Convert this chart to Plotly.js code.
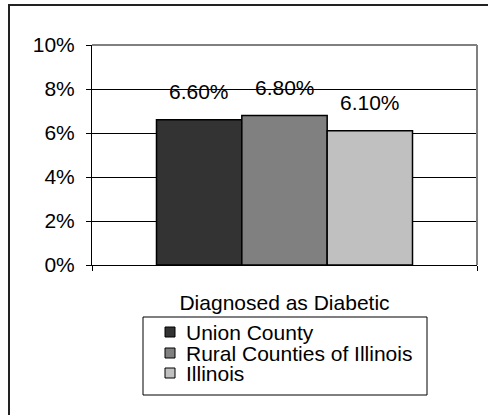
<!DOCTYPE html>
<html>
<head>
<meta charset="utf-8">
<script src="https://cdn.plot.ly/plotly-3.0.1.min.js"></script>
<style>
  html, body { margin: 0; padding: 0; background: #fff; overflow: hidden; }
  #wrap { position: relative; width: 488px; height: 415px; }
  #frame { position: absolute; left: 8px; top: 4px; width: 520px; height: 450px;
           border-left: 2px solid #222; border-top: 2px solid #222; box-sizing: border-box; pointer-events: none; }
  #chart { position: absolute; left: 0; top: 0; width: 488px; height: 415px; }
</style>
</head>
<body>
<div id="wrap">
  <div id="chart"></div>
  <div id="frame"></div>
</div>
<script>
const categories = ["Diagnosed as Diabetic"];
const seriesNames = ["Union County", "Rural Counties of Illinois", "Illinois"];
const unionCounty = [0.066];
const ruralCounties = [0.068];
const illinois = [0.061];
const valueLabels = ["6.60%", "6.80%", "6.10%"];
const yTickVals = [0, 0.02, 0.04, 0.06, 0.08, 0.10];
const yTickText = ["0%", "2%", "4%", "6%", "8%", "10%"];

const colors = ["#333333", "#808080", "#c0c0c0"];
const seriesValues = [unionCounty, ruralCounties, illinois];
const FONT = "Liberation Sans, Arial, sans-serif";
const FS = 21;

const W = 488, H = 415;
const margin = {l: 92, r: 11, t: 45, b: 150, pad: 0, autoexpand: false};
const plotW = W - margin.l - margin.r;
const plotH = H - margin.t - margin.b;
const bottomPx = H - margin.b;
const bargap = 0.335;
const barPx = (1 - bargap) / seriesNames.length * plotW;

// pixel -> paper helpers for the hand-drawn legend box
const px = v => (v - margin.l) / plotW;
const py = v => (bottomPx - v) / plotH;

const traces = seriesNames.map((name, i) => ({
  type: "bar",
  name: name,
  x: categories,
  y: seriesValues[i],
  marker: {color: colors[i], line: {color: "#000", width: 1.5}},
  hoverinfo: "none",
  showlegend: false
}));

const annotations = seriesNames.map((name, i) => ({
  x: categories[0],
  y: seriesValues[i][0],
  xref: "x", yref: "y",
  text: valueLabels[i],
  showarrow: false,
  xanchor: "center", yanchor: "middle",
  xshift: (i - 1) * barPx,
  yshift: 28,
  font: {family: FONT, size: FS, color: "#000"}
}));

// legend (drawn as box + swatches + labels)
const legendBox = {x0: 143, x1: 427, y0: 317, y1: 395};
const legendRowY = [332, 353, 373];
const shapes = [
  {type: "line", xref: "paper", yref: "paper", x0: 0, x1: 1, y0: 1, y1: 1, line: {color: "#808080", width: 2}},
  {type: "line", xref: "paper", yref: "paper", x0: 1, x1: 1, y0: 0, y1: 1, line: {color: "#808080", width: 2}},
  {type: "rect", xref: "paper", yref: "paper",
   x0: px(legendBox.x0), x1: px(legendBox.x1), y0: py(legendBox.y0), y1: py(legendBox.y1),
   line: {color: "#000", width: 1}, fillcolor: "#fff"}
];
seriesNames.forEach((name, i) => {
  const cy = legendRowY[i];
  shapes.push({type: "rect", xref: "paper", yref: "paper",
    x0: px(165), x1: px(175), y0: py(cy - 5), y1: py(cy + 5),
    line: {color: "#000", width: 1}, fillcolor: colors[i]});
  annotations.push({xref: "paper", yref: "paper", x: px(184), y: py(cy),
    xanchor: "left", yanchor: "middle", showarrow: false, text: name,
    font: {family: FONT, size: FS, color: "#000"}});
});

const layout = {
  width: W, height: H,
  margin: margin,
  paper_bgcolor: "rgba(0,0,0,0)",
  plot_bgcolor: "#fff",
  barmode: "group",
  bargap: bargap,
  bargroupgap: 0,
  font: {family: FONT, size: FS, color: "#000"},
  showlegend: false,
  xaxis: {
    type: "category",
    showline: true, linecolor: "#000", linewidth: 1,
    ticks: "outside", tickson: "boundaries", ticklen: 5, tickcolor: "#000",
    ticklabelstandoff: 19,
    showgrid: false, zeroline: false,
    tickfont: {family: FONT, size: FS, color: "#000"},
    fixedrange: true
  },
  yaxis: {
    range: [0, 0.10],
    tickvals: yTickVals, ticktext: yTickText,
    showline: true, linecolor: "#000", linewidth: 1,
    ticks: "outside", ticklen: 5, tickcolor: "#000",
    showgrid: true, gridcolor: "#000", gridwidth: 1,
    zeroline: false,
    ticklabelstandoff: 7,
    tickfont: {family: FONT, size: FS, color: "#000"},
    fixedrange: true
  },
  shapes: shapes,
  annotations: annotations
};

Plotly.newPlot("chart", traces, layout, {displayModeBar: false, staticPlot: true});
</script>
</body>
</html>
